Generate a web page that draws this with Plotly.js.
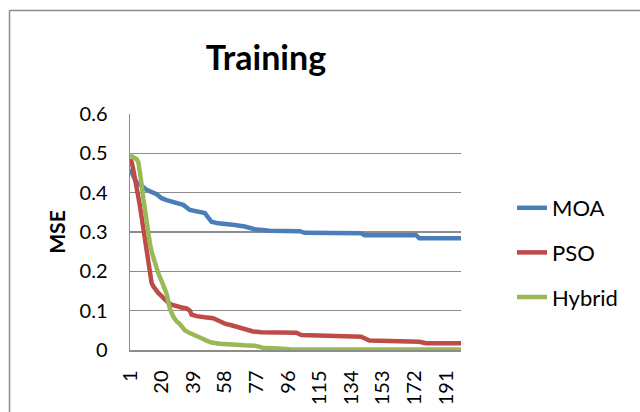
<!DOCTYPE html>
<html>
<head>
<meta charset="utf-8">
<script src="https://cdn.plot.ly/plotly-3.0.1.min.js"></script>
<style>
  html, body { margin: 0; padding: 0; background: #fff; }
  #chart { width: 640px; height: 412px; }
</style>
</head>
<body>
<div id="chart"></div>
<script>
// Iteration numbers and MSE values
const moaIter = [1,3,5,8,11,17,20,23,28,33,37,42,46,50,54,64,70,76,85,103,106,140,142,173,175,200];
const moaMSE  = [0.46,0.44,0.425,0.418,0.407,0.396,0.386,0.381,0.375,0.369,0.356,0.352,0.348,0.326,0.322,0.318,0.314,0.307,0.303,0.302,0.298,0.297,0.292,0.292,0.284,0.284];

const psoIter = [1,2,3,4,5,6,7,8,9,10,11,12,13,14,15,16,18,20,22,24,26,28,32,35,37,38,41,46,51,54,58,62,66,70,75,80,101,104,135,140,145,175,179,200];
const psoMSE  = [0.485,0.478,0.458,0.437,0.415,0.394,0.366,0.338,0.31,0.282,0.25,0.215,0.19,0.17,0.162,0.155,0.145,0.137,0.127,0.12,0.115,0.112,0.108,0.106,0.1,0.09,0.086,0.083,0.081,0.075,0.067,0.063,0.058,0.052,0.047,0.045,0.044,0.038,0.036,0.034,0.024,0.021,0.017,0.017];

const hybIter = [1,3,5,6,7,8,9,10,11,12,13,14,15,16,18,20,21,22,23,24,25,27,29,31,33,34,36,38,41,44,47,50,55,62,70,76,79,81,90,97,120,200];
const hybMSE  = [0.495,0.49,0.485,0.478,0.455,0.42,0.385,0.352,0.32,0.295,0.27,0.25,0.235,0.22,0.195,0.175,0.165,0.155,0.143,0.123,0.105,0.085,0.073,0.066,0.056,0.05,0.045,0.042,0.036,0.03,0.024,0.019,0.016,0.013,0.012,0.011,0.008,0.006,0.004,0.002,0.001,0.001];

const xTickVals = [1,20,39,58,77,96,115,134,153,172,191];
const xTickText = ['1','20','39','58','77','96','115','134','153','172','191'];
const seriesNames = ['MOA','PSO','Hybrid'];

const FONT = 'Lato, "Open Sans", sans-serif';
const GRID = '#8c8c8c';

const traces = [
  {x: moaIter, y: moaMSE, name: seriesNames[0], color: '#4a7ebb'},
  {x: psoIter, y: psoMSE, name: seriesNames[1], color: '#be4b48'},
  {x: hybIter, y: hybMSE, name: seriesNames[2], color: '#98b954'}
].map((s, i) => ({
  type: 'scatter', mode: 'lines', x: s.x, y: s.y, name: s.name,
  legendgroup: 'g' + i,
  line: {color: s.color, width: 4.5, shape: 'linear'},
  hoverinfo: 'skip'
}));

const L = 130, R = 179, T = 114, B = 62;
const W = 640, H = 412;
const pw = W - L - R, ph = H - T - B;
const px = v => (v - L) / pw;
const py = v => (H - B - v) / ph;

const layout = {
  width: W, height: H,
  margin: {l: L, r: R, t: T, b: B, pad: 0},
  paper_bgcolor: '#fff', plot_bgcolor: '#fff',
  font: {family: FONT, color: '#000', size: 20},
  title: {
    text: '<b>Training</b>',
    font: {family: FONT, size: 34, color: '#000'},
    xref: 'container', yref: 'container',
    x: 266 / W, xanchor: 'center',
    y: 1 - 58 / H, yanchor: 'middle'
  },
  xaxis: {
    type: 'linear', range: [1, 200],
    tickmode: 'array', tickvals: xTickVals, ticktext: xTickText,
    tickangle: -90, ticks: '', ticklabelstandoff: 11,
    showgrid: false, zeroline: false,
    showline: true, linecolor: GRID, linewidth: 1.5,
    tickfont: {family: FONT, size: 20, color: '#000'},
    fixedrange: true
  },
  yaxis: {
    range: [0, 0.6], dtick: 0.1, tick0: 0,
    ticks: '', ticklabelstandoff: 17,
    showgrid: true, gridcolor: GRID, gridwidth: 1.5,
    zeroline: false,
    showline: true, linecolor: GRID, linewidth: 1.5,
    tickfont: {family: FONT, size: 20, color: '#000'},
    title: {text: '<b>MSE</b>', font: {family: FONT, size: 21, color: '#000'}, standoff: 8},
    fixedrange: true
  },
  legend: {
    x: px(512), xanchor: 'left',
    y: py(187), yanchor: 'top',
    font: {family: FONT, size: 22, color: '#000'},
    bgcolor: 'rgba(0,0,0,0)', borderwidth: 0,
    tracegroupgap: 13
  },
  shapes: [
    {type: 'line', xref: 'paper', yref: 'paper', x0: px(9.5), x1: px(700), y0: py(10.5), y1: py(10.5), line: {color: GRID, width: 1.5}},
    {type: 'line', xref: 'paper', yref: 'paper', x0: px(9.5), x1: px(9.5), y0: py(10.5), y1: py(450), line: {color: GRID, width: 1.5}}
  ],
  showlegend: true
};

Plotly.newPlot('chart', traces, layout, {staticPlot: true, displayModeBar: false});
</script>
</body>
</html>
